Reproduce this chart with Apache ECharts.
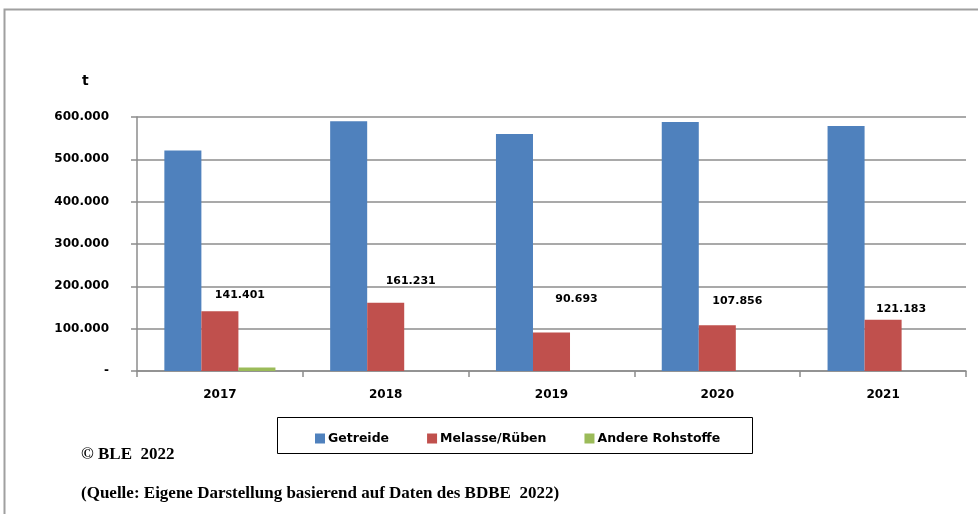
<!DOCTYPE html>
<html>
<head>
<meta charset="utf-8">
<script src="https://cdn.jsdelivr.net/npm/echarts@6/dist/echarts.min.js"></script>
<style>
  html, body { margin: 0; padding: 0; background: #fff; }
  #chart { width: 978px; height: 514px; }
</style>
</head>
<body>
<div id="chart"></div>
<script>
// Jahre und Rohstoffmengen in Tonnen
const years = ['2017', '2018', '2019', '2020', '2021'];
const getreide = [521000, 590000, 560000, 588000, 579000];
const melasse = [141401, 161231, 90693, 107856, 121183];
const andere = [8000, 0, 0, 0, 0];
const yTicks = [0, 100000, 200000, 300000, 400000, 500000, 600000];

// Verschiebung der Wertebeschriftungen gegenüber der Balkenmitte [x, y]
const labelShift = [[20, -5], [25, -11], [25, -23], [20, -14], [18, 0]];

const fmt = v => v === 0 ? '-' : Math.round(v).toString().replace(/\B(?=(\d{3})+(?!\d))/g, '.');

const chart = echarts.init(document.getElementById('chart'));
const font = '"DejaVu Sans", sans-serif';
const serif = '"Liberation Serif", "Times New Roman", serif';

chart.setOption({
  animation: false,
  backgroundColor: '#fff',
  grid: { left: 137, right: 12, top: 117, bottom: 143, containLabel: false },
  graphic: [
    { type: 'polyline', shape: { points: [[4.5, 520], [4.5, 9.5], [990, 9.5]] },
      style: { stroke: '#a0a0a0', lineWidth: 2, fill: null } },
    { type: 'rect', shape: { x: 277.5, y: 417.5, width: 475, height: 36 },
      style: { stroke: '#000', lineWidth: 1, fill: '#fff' } },
    { type: 'text', x: 82, y: 81,
      style: { text: 't', font: 'bold 14px ' + font, fill: '#000', verticalAlign: 'middle' } },
    { type: 'text', x: 81, y: 455,
      style: { text: '© BLE  2022', font: 'bold 17px ' + serif, fill: '#000', verticalAlign: 'middle' } },
    { type: 'text', x: 81, y: 494,
      style: { text: '(Quelle: Eigene Darstellung basierend auf Daten des BDBE  2022)', font: 'bold 17px ' + serif, fill: '#000', verticalAlign: 'middle' } }
  ],
  legend: {
    left: 310, top: 427,
    itemWidth: 10, itemHeight: 10, itemGap: 38,
    icon: 'rect',
    textStyle: { fontFamily: font, fontWeight: 'bold', fontSize: 12.5, color: '#000', padding: [0, 0, 0, -2] },
    data: ['Getreide', 'Melasse/Rüben', 'Andere Rohstoffe']
  },
  xAxis: {
    type: 'category',
    data: years,
    axisLine: { lineStyle: { color: '#8c8c8c', width: 1.5 } },
    axisTick: { show: true, length: 6, lineStyle: { color: '#8c8c8c', width: 1.5 } },
    axisLabel: { fontFamily: font, fontWeight: 'bold', fontSize: 12, color: '#000', margin: 18 }
  },
  yAxis: {
    type: 'value',
    min: 0, max: yTicks[yTicks.length - 1], interval: yTicks[1] - yTicks[0],
    axisLine: { show: true, lineStyle: { color: '#8c8c8c', width: 1.5 } },
    axisTick: { show: true, length: 6, lineStyle: { color: '#8c8c8c', width: 1.5 } },
    splitLine: { lineStyle: { color: '#8c8c8c', width: 1.5 } },
    axisLabel: { fontFamily: font, fontWeight: 'bold', fontSize: 12, color: '#000', margin: 28, formatter: fmt }
  },
  series: [
    { name: 'Getreide', type: 'bar', data: getreide, barGap: '0%', barCategoryGap: '33%',
      itemStyle: { color: '#4F81BD' } },
    { name: 'Melasse/Rüben', type: 'bar',
      data: melasse.map((v, i) => ({
        value: v,
        label: { show: true, position: 'top', offset: labelShift[i], formatter: p => fmt(p.value),
                 fontFamily: font, fontWeight: 'bold', fontSize: 11, color: '#000' }
      })),
      itemStyle: { color: '#C0504D' } },
    { name: 'Andere Rohstoffe', type: 'bar', data: andere,
      itemStyle: { color: '#9BBB59' } }
  ]
});
</script>
</body>
</html>
